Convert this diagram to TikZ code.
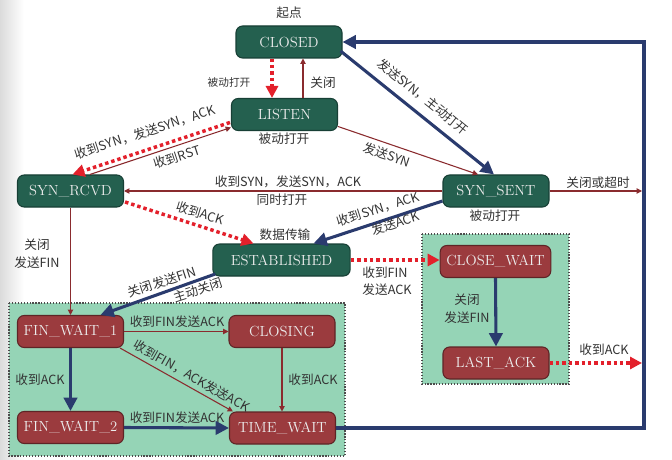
\documentclass[tikz,border=0pt]{standalone}
\usepackage{fontspec}
\newfontfamily\cjk{Noto Sans CJK SC}
\usetikzlibrary{arrows.meta,calc}
\definecolor{ngreen}{HTML}{24604F}
\definecolor{ngreenb}{HTML}{173F35}
\definecolor{nred}{HTML}{9B3B3E}
\definecolor{nredb}{HTML}{5E2426}
\definecolor{boxg}{HTML}{95D4B6}
\definecolor{navy}{HTML}{2A3B6E}
\definecolor{dred}{HTML}{E3202B}
\definecolor{tred}{HTML}{8A2B2E}
\definecolor{lbltext}{HTML}{333333}
\begin{document}
\begin{tikzpicture}[x=0.75pt,y=-0.75pt,
  st/.style={draw, rounded corners=5pt, minimum width=79.5pt, minimum height=24pt,
    text=white!93!black, font=\fontsize{11}{13}\selectfont, line width=0.8pt, inner sep=0pt},
  gst/.style={st, fill=ngreen, draw=ngreenb},
  rst/.style={st, fill=nred, draw=nredb},
  lbl/.style={font=\cjk\fontsize{9.5}{11}\selectfont, text=lbltext, inner sep=0pt},
  navyarr/.style={draw=navy, line width=2.3pt, -{Triangle[length=10pt,width=10pt]}},
  redarr/.style={draw=dred, line width=2.6pt, dash pattern=on 2.6pt off 2.2pt, -{Triangle[length=9pt,width=9pt]}},
  thinarr/.style={draw=tred, line width=0.8pt, -{Triangle[length=4pt,width=4pt]}},
  grpbox/.style={draw=black!70, fill=boxg, line width=0.9pt, dash pattern=on 0.9pt off 1.3pt},
]
\useasboundingbox (0,0) rectangle (672,460);
\fill[white] (0,0) rectangle (672,460);
\shade[left color=black!14, right color=white] (0,0) rectangle (24,460);

% group boxes
\draw[grpbox] (9,303) rectangle (345,456);
\draw[grpbox] (422,234) rectangle (569,384);

% states
\node[gst] (closed) at (289,42) {CLOSED};
\node[gst] (listen) at (284.5,114.5) {LISTEN};
\node[gst] (synrcvd) at (70.5,191) {SYN\_RCVD};
\node[gst] (synsent) at (496,191) {SYN\_SENT};
\node[gst, minimum width=103pt] (established) at (281.5,260) {ESTABLISHED};
\node[rst, minimum width=83pt] (closewait) at (495.5,261.5) {CLOSE\_WAIT};
\node[rst] (lastack) at (496,363) {LAST\_ACK};
\node[rst] (finwait1) at (70.5,331.5) {FIN\_WAIT\_1};
\node[rst] (closing) at (282,331.5) {CLOSING};
\node[rst] (finwait2) at (70.5,427.5) {FIN\_WAIT\_2};
\node[rst] (timewait) at (282.5,428) {TIME\_WAIT};

% helper coordinates
\coordinate (xa) at (272,0);
\coordinate (xb) at (303,0);
\coordinate (rx) at (644,0);
\coordinate (rt) at (642,0);

% connectors
\draw[redarr] (closed.south -| xa) -- (listen.north -| xa);
\draw[thinarr] (listen.north -| xb) -- (closed.south -| xb);
\draw[redarr] ($(listen.west)+(-1,8)$) -- ($(synrcvd.north)+(2,0)$);
\draw[thinarr] ($(synrcvd.north)+(19.5,0)$) -- ($(listen.west)+(0,13)$);
\draw[thinarr] ($(listen.east)+(0,12)$) -- ($(synsent.north)+(-18,0)$);
\draw[navyarr] ($(closed.east)+(-2,9)$) -- ($(synsent.north)+(-2,0)$);
\draw[thinarr] (synsent.west) -- (synrcvd.east);
\draw[thinarr] (synsent.east) -- (synsent.east -| rt);
\draw[navyarr] ($(synsent.west)+(0,10)$) -- ($(established.north)+(32,0)$);
\draw[redarr] ($(synrcvd.east)+(1,11)$) -- ($(established.north)+(-28,0)$);
\draw[thinarr] (synrcvd.south) -- (finwait1.north);
\draw[navyarr] ($(established.west)+(3,14)$) -- ($(finwait1.north)+(30,0)$);
\draw[redarr] (established.east) -- (established.east -| closewait.west);
\draw[navyarr] (closewait.south) -- (lastack.north);
\draw[redarr] (lastack.east) -- (lastack.east -| rt);
\draw[thinarr] (finwait1.east) -- (closing.west);
\draw[thinarr] ($(finwait1.south east)+(-4,0)$) -- ($(timewait.north west)+(4,0)$);
\draw[navyarr] (finwait1.south) -- (finwait2.north);
\draw[thinarr] (closing.south) -- (closing.south |- timewait.north);
\draw[navyarr] (finwait2.east) -- (timewait.west);
\draw[navyarr] (timewait.east) -- (timewait.east -| rx) -- (closed.east -| rx) -- (closed.east);

% labels
\node[lbl] (l1) at (289,13) {起点};
\node[lbl, font=\cjk\fontsize{8}{10}\selectfont] (l2) at (229,82) {被动打开};
\node[lbl] (l3) at (323,83) {关闭};
\node[lbl, rotate=18] (l4) at (145,132) {收到SYN，发送SYN，ACK};
\node[lbl, rotate=18] (l5) at (177,157) {收到RST};
\node[lbl] (l6) at (284,139) {被动打开};
\node[lbl, rotate=-19] (l7) at (387,155) {发送SYN};
\node[lbl, rotate=-39] (l8) at (423,97) {发送SYN，主动打开};
\node[lbl] (l9) at (288,182) {收到SYN，发送SYN，ACK};
\node[lbl] (l10) at (282,200) {同时打开};
\node[lbl] (l11) at (598,183) {关闭或超时};
\node[lbl] (l12) at (495,216) {被动打开};
\node[lbl, rotate=17.6] (l13) at (378,209) {收到SYN，ACK};
\node[lbl, rotate=17.6] (l14) at (395,223) {发送ACK};
\node[lbl] (l15) at (285,235) {数据传输};
\node[lbl, rotate=-17] (l16) at (200,213) {收到ACK};
\node[lbl] (l17) at (37,245) {关闭};
\node[lbl] (l18) at (37,263) {发送FIN};
\node[lbl, rotate=18] (l19) at (162,282) {关闭发送FIN};
\node[lbl, rotate=18] (l20) at (198,290) {主动关闭};
\node[lbl] (l21) at (385,273) {收到FIN};
\node[lbl] (l22) at (387,290) {发送ACK};
\node[lbl] (l23) at (467,300) {关闭};
\node[lbl] (l24) at (467,318) {发送FIN};
\node[lbl] (l25) at (604,350) {收到ACK};
\node[lbl] (l26) at (177,322) {收到FIN发送ACK};
\node[lbl, rotate=-29.5] (l27) at (192,376) {收到FIN，ACK发送ACK};
\node[lbl] (l28) at (40,380) {收到ACK};
\node[lbl] (l29) at (313,380) {收到ACK};
\node[lbl] (l30) at (177,418) {收到FIN发送ACK};
\end{tikzpicture}
\end{document}
